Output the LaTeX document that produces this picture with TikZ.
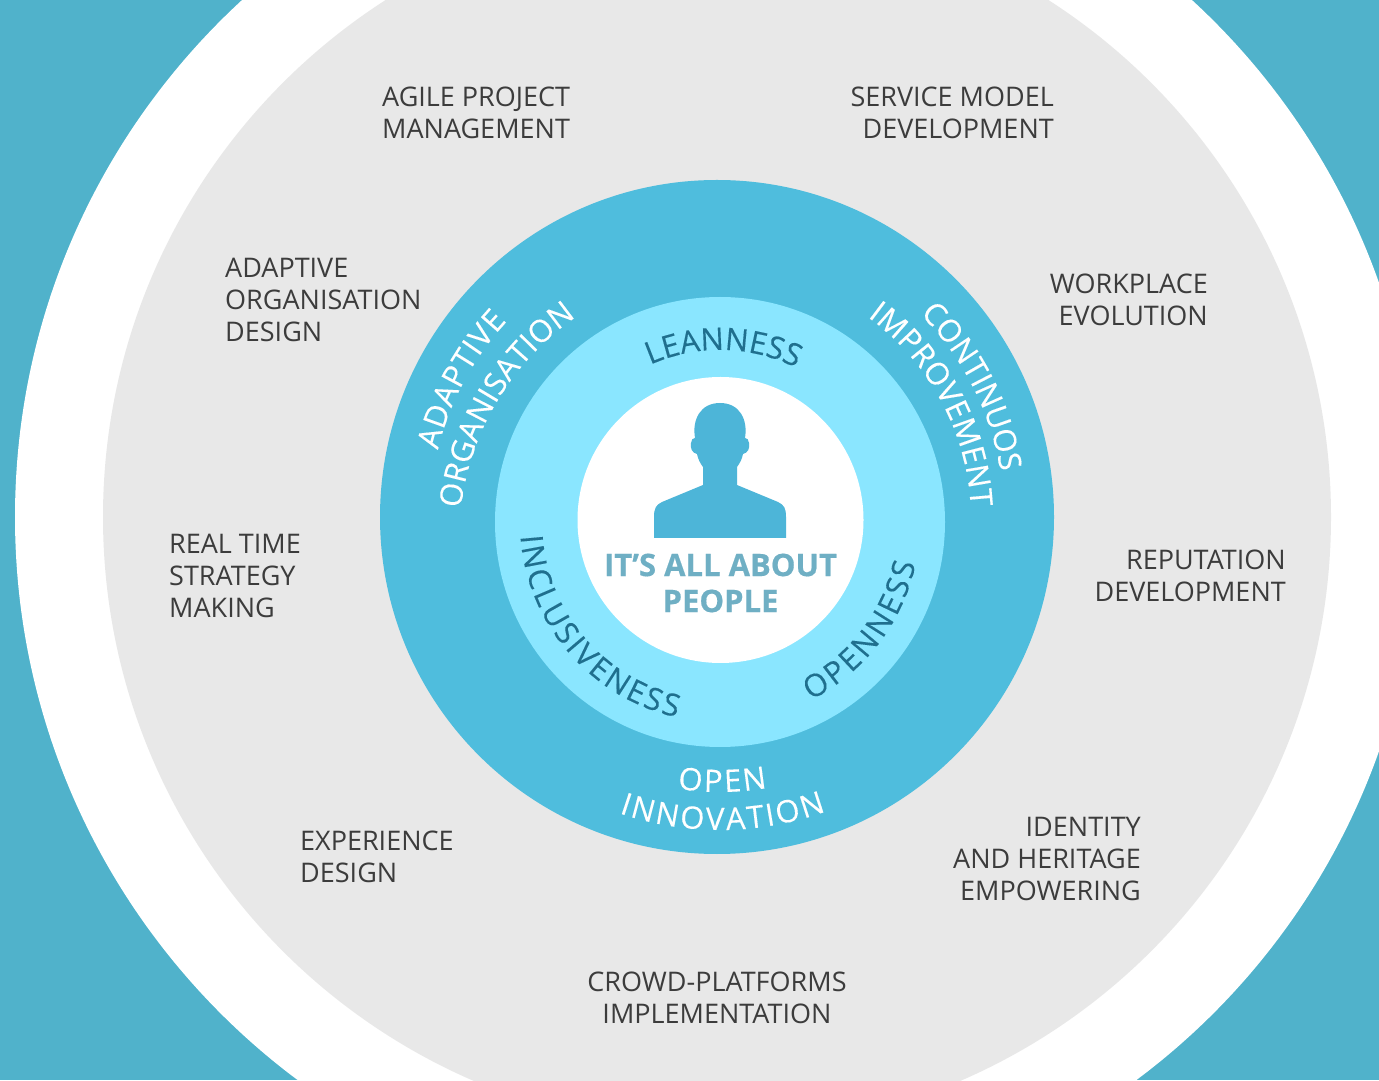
\documentclass[tikz,border=0pt]{standalone}
\usepackage{fontspec}
\setmainfont{Open Sans}
\newfontfamily\headfont{Open Sans}[FakeBold=0.5]
\newfontfamily\curvefam{Open Sans}[FakeBold=0.2]
\usetikzlibrary{decorations.text}
\definecolor{bgteal}{HTML}{50B2CB}
\definecolor{ringblue}{HTML}{4FBDDD}
\definecolor{ringlight}{HTML}{8AE6FF}
\definecolor{softgray}{HTML}{E8E8E8}
\definecolor{darkteal}{HTML}{1F6F8E}
\definecolor{labeltext}{HTML}{3C3C3C}
\definecolor{headteal}{HTML}{6FAFC4}
\definecolor{iconblue}{HTML}{4DB5D8}
\newcommand{\labelfont}{\fontsize{27}{32}\selectfont}
\newcommand{\curvefont}{\curvefam\fontsize{31}{32}\selectfont}
\newcommand{\arclabel}[7]{%
  \path[decorate,decoration={text along path,text align={fit to path},
    text={|\color{#6}\curvefont|#7}}]
    (#1,#2) ++(#4:#3) arc[start angle=#4,end angle=#5,radius=#3pt];}
\tikzset{
  disc/.style={circle,inner sep=0pt,outer sep=0pt,draw=none},
  toplabel/.style={inner sep=0pt,text=labeltext,font=\labelfont},
  lleft/.style={toplabel,anchor=west,align=left},
  lright/.style={toplabel,anchor=east,align=right},
  lmid/.style={toplabel,anchor=center,align=center},
}
\begin{document}
\begin{tikzpicture}[x=1pt,y=1pt]
\useasboundingbox (0,0) rectangle (1379,1080);
\fill[bgteal] (0,0) rectangle (1379,1080);
\clip (0,0) rectangle (1379,1080);
\node[disc,fill=white,minimum size=1404pt] (outer) at (717,563) {};
\node[disc,fill=softgray,minimum size=1228pt] (gray) at (717,563) {};
\node[disc,fill=ringblue,minimum size=674pt] (ring) at (717,563) {};
\node[disc,fill=ringlight,minimum size=450pt] (light) at (720,558) {};
\node[disc,fill=white,minimum size=286pt] (core) at (720.5,560) {};
% person
\fill[iconblue] (654,542) -- (654,563) .. controls (654,572) and (656,575) .. (662,578)
  -- (703,595) -- (703,613) .. controls (700,617) and (698,621) .. (697,626)
  .. controls (692,627) and (690,632) .. (691,637) .. controls (691,640) and (693,642) .. (695,642)
  .. controls (692,660) and (700,677) .. (720,677)
  .. controls (740,677) and (748,660) .. (745,642)
  .. controls (747,642) and (749,640) .. (749,637) .. controls (750,632) and (748,627) .. (743,626)
  .. controls (742,621) and (740,617) .. (737,613) -- (737,595) -- (778,578)
  .. controls (784,575) and (786,572) .. (786,563) -- (786,542) -- cycle;
\node[inner sep=0pt,align=center,text=headteal,font={\fontsize{31}{36}\headfont\bfseries}] (people) at (720.5,497) {IT’S ALL ABOUT\\PEOPLE};
% curved labels
\arclabel{717}{563}{287}{166.5}{137}{white}{ADAPTIVE}
\arclabel{730}{540}{271}{173.3}{124.6}{white}{ORGANISATION}
\arclabel{717}{563}{287}{45}{9.5}{white}{CONTINUOS}
\arclabel{720}{560}{251}{54}{3}{white}{IMPROVEMENT}
\arclabel{720}{560}{272}{261}{280}{white}{OPEN}
\arclabel{720}{560}{310}{251}{290}{white}{INNOVATION}
\arclabel{720}{558}{172}{114}{66}{darkteal}{LEANNESS}
\arclabel{720}{558}{200}{184}{257.5}{darkteal}{INCLUSIVENESS}
\arclabel{720}{558}{200}{297}{348}{darkteal}{OPENNESS}
% outer labels
\node[lleft] (agile) at (382,967) {AGILE PROJECT\\MANAGEMENT};
\node[lright] (service) at (1054,967) {SERVICE MODEL\\DEVELOPMENT};
\node[lleft] (adaptive) at (225,780) {ADAPTIVE\\ORGANISATION\\DESIGN};
\node[lright] (workplace) at (1208,780) {WORKPLACE\\EVOLUTION};
\node[lleft] (realtime) at (169,504) {REAL TIME\\STRATEGY\\MAKING};
\node[lright] (reputation) at (1286,504) {REPUTATION\\DEVELOPMENT};
\node[lleft] (experience) at (300,223) {EXPERIENCE\\DESIGN};
\node[lright] (identity) at (1141,221) {IDENTITY\\AND HERITAGE\\EMPOWERING};
\node[lmid] (crowd) at (717,82) {CROWD-PLATFORMS\\IMPLEMENTATION};
\end{tikzpicture}
\end{document}
